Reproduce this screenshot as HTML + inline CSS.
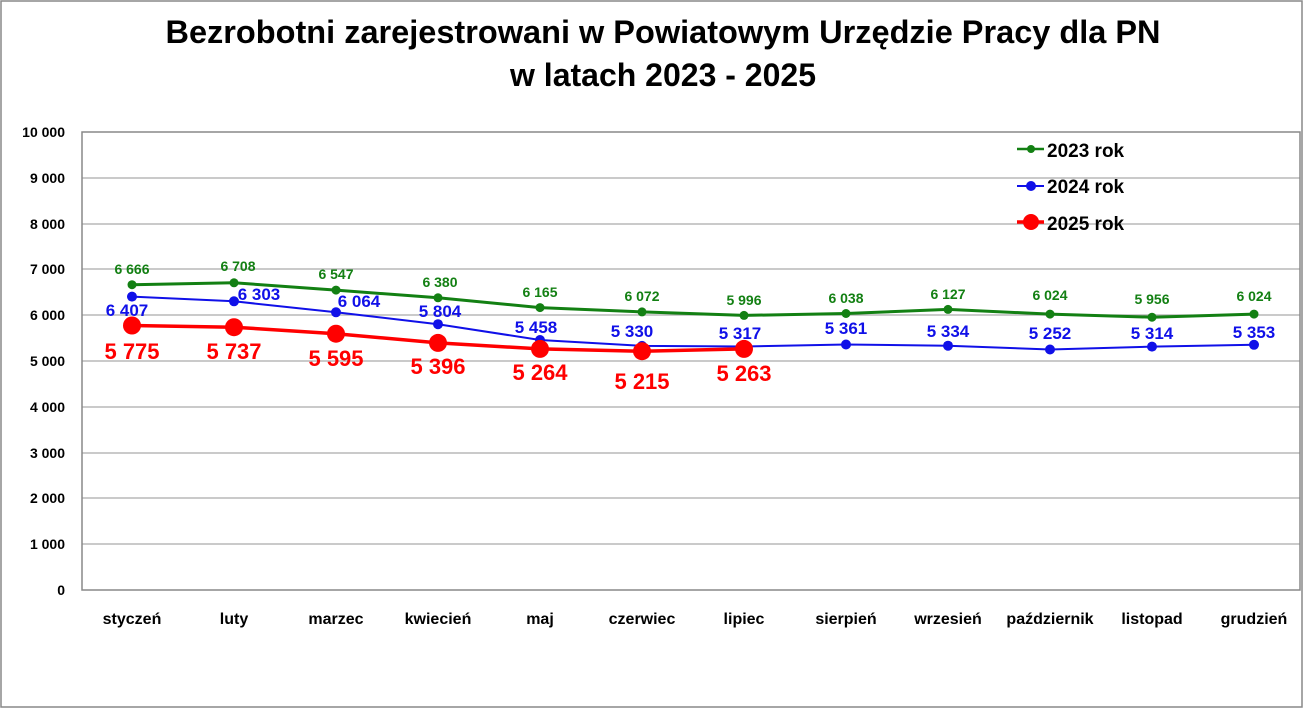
<!DOCTYPE html>
<html><head><meta charset="utf-8"><style>
body{margin:0;background:#fff}
svg text{font-family:"Liberation Sans",sans-serif;font-weight:bold}
</style></head><body>
<svg width="1303" height="709" viewBox="0 0 1303 709" xmlns="http://www.w3.org/2000/svg">
<rect x="1" y="1" width="1301" height="706" fill="#fff" stroke="#888" stroke-width="1.5"/>
<text x="663" y="43" font-size="32" text-anchor="middle" textLength="995" lengthAdjust="spacingAndGlyphs">Bezrobotni zarejestrowani w Powiatowym Urzędzie Pracy dla PN</text>
<text x="663" y="86" font-size="32" text-anchor="middle">w latach 2023 - 2025</text>
<g stroke="#aaa" stroke-width="1.2">
<line x1="82" x2="1300" y1="178" y2="178"/><line x1="82" x2="1300" y1="224" y2="224"/>
<line x1="82" x2="1300" y1="269" y2="269"/><line x1="82" x2="1300" y1="315" y2="315"/>
<line x1="82" x2="1300" y1="361" y2="361"/><line x1="82" x2="1300" y1="407" y2="407"/>
<line x1="82" x2="1300" y1="453" y2="453"/><line x1="82" x2="1300" y1="498" y2="498"/>
<line x1="82" x2="1300" y1="544" y2="544"/>
</g>
<rect x="82" y="132" width="1218" height="458" fill="none" stroke="#888" stroke-width="1.5"/>
<g font-size="14" text-anchor="end">
<text x="65" y="137">10 000</text><text x="65" y="183">9 000</text><text x="65" y="229">8 000</text>
<text x="65" y="274">7 000</text><text x="65" y="320">6 000</text><text x="65" y="366">5 000</text>
<text x="65" y="412">4 000</text><text x="65" y="458">3 000</text><text x="65" y="503">2 000</text>
<text x="65" y="549">1 000</text><text x="65" y="595">0</text>
</g>
<g font-size="16" text-anchor="middle">
<text x="132" y="624">styczeń</text><text x="234" y="624">luty</text><text x="336" y="624">marzec</text>
<text x="438" y="624">kwiecień</text><text x="540" y="624">maj</text><text x="642" y="624">czerwiec</text>
<text x="744" y="624">lipiec</text><text x="846" y="624">sierpień</text><text x="948" y="624">wrzesień</text>
<text x="1050" y="624">październik</text><text x="1152" y="624">listopad</text><text x="1254" y="624">grudzień</text>
</g>
<polyline fill="none" stroke="#138013" stroke-width="3" points="132,284.7 234,282.8 336,290.1 438,297.8 540,307.6 642,311.9 744,315.4 846,313.5 948,309.4 1050,314.1 1152,317.2 1254,314.1"/>
<g fill="#138013">
<circle cx="132" cy="284.7" r="4.5"/><circle cx="234" cy="282.8" r="4.5"/><circle cx="336" cy="290.1" r="4.5"/><circle cx="438" cy="297.8" r="4.5"/><circle cx="540" cy="307.6" r="4.5"/><circle cx="642" cy="311.9" r="4.5"/><circle cx="744" cy="315.4" r="4.5"/><circle cx="846" cy="313.5" r="4.5"/><circle cx="948" cy="309.4" r="4.5"/><circle cx="1050" cy="314.1" r="4.5"/><circle cx="1152" cy="317.2" r="4.5"/><circle cx="1254" cy="314.1" r="4.5"/>
</g>
<g fill="#138013" font-size="14" text-anchor="middle">
<text x="132" y="274">6 666</text><text x="238" y="271">6 708</text><text x="336" y="279">6 547</text><text x="440" y="287">6 380</text><text x="540" y="297">6 165</text><text x="642" y="301">6 072</text><text x="744" y="305">5 996</text><text x="846" y="303">6 038</text><text x="948" y="299">6 127</text><text x="1050" y="300">6 024</text><text x="1152" y="304">5 956</text><text x="1254" y="301">6 024</text>
</g>
<polyline fill="none" stroke="#1010e8" stroke-width="2" points="132,296.6 234,301.3 336,312.3 438,324.2 540,340.0 642,345.9 744,346.5 846,344.5 948,345.7 1050,349.5 1152,346.6 1254,344.8"/>
<g fill="#1010e8">
<circle cx="132" cy="296.6" r="5"/><circle cx="234" cy="301.3" r="5"/><circle cx="336" cy="312.3" r="5"/><circle cx="438" cy="324.2" r="5"/><circle cx="540" cy="340.0" r="5"/><circle cx="642" cy="345.9" r="5"/><circle cx="744" cy="346.5" r="5"/><circle cx="846" cy="344.5" r="5"/><circle cx="948" cy="345.7" r="5"/><circle cx="1050" cy="349.5" r="5"/><circle cx="1152" cy="346.6" r="5"/><circle cx="1254" cy="344.8" r="5"/>
</g>
<g fill="#1010e8" font-size="17" text-anchor="middle">
<text x="127" y="316">6 407</text><text x="259" y="300">6 303</text><text x="359" y="307">6 064</text><text x="440" y="317">5 804</text><text x="536" y="333">5 458</text><text x="632" y="337">5 330</text><text x="740" y="339">5 317</text><text x="846" y="334">5 361</text><text x="948" y="337">5 334</text><text x="1050" y="339">5 252</text><text x="1152" y="339">5 314</text><text x="1254" y="338">5 353</text>
</g>
<polyline fill="none" stroke="#ff0000" stroke-width="3.5" points="132,325.5 234,327.2 336,333.7 438,342.9 540,348.9 642,351.2 744,348.9"/>
<g fill="#ff0000">
<circle cx="132" cy="325.5" r="9"/><circle cx="234" cy="327.2" r="9"/><circle cx="336" cy="333.7" r="9"/><circle cx="438" cy="342.9" r="9"/><circle cx="540" cy="348.9" r="9"/><circle cx="642" cy="351.2" r="9"/><circle cx="744" cy="348.9" r="9"/>
</g>
<g fill="#ff0000" font-size="22" text-anchor="middle">
<text x="132" y="359">5 775</text><text x="234" y="359">5 737</text><text x="336" y="366">5 595</text><text x="438" y="374">5 396</text><text x="540" y="380">5 264</text><text x="642" y="389">5 215</text><text x="744" y="381">5 263</text>
</g>
<line x1="1017" x2="1044" y1="149" y2="149" stroke="#138013" stroke-width="2.5"/><circle cx="1031" cy="149" r="4" fill="#138013"/>
<text x="1047" y="157" font-size="19">2023 rok</text>
<line x1="1017" x2="1044" y1="186" y2="186" stroke="#1010e8" stroke-width="2"/><circle cx="1031" cy="186" r="5" fill="#1010e8"/>
<text x="1047" y="193" font-size="19">2024 rok</text>
<line x1="1017" x2="1044" y1="222" y2="222" stroke="#ff0000" stroke-width="3.5"/><circle cx="1031" cy="222" r="8" fill="#ff0000"/>
<text x="1047" y="230" font-size="19">2025 rok</text>
</svg>
</body></html>
